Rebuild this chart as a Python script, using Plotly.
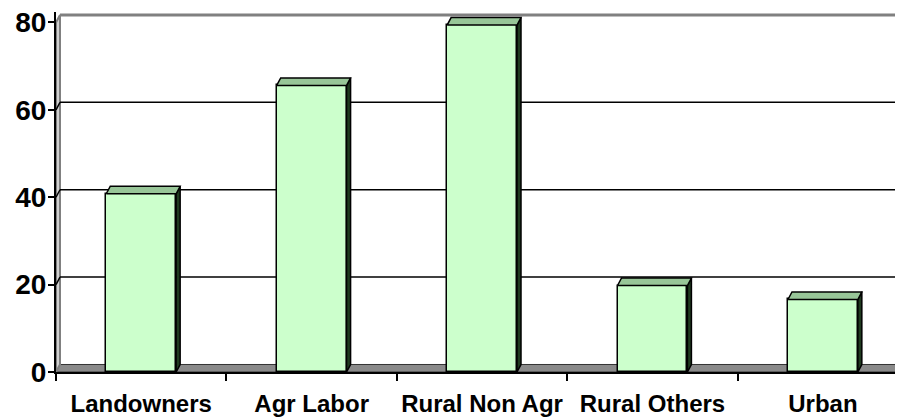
import plotly.graph_objects as go

categories = ["Landowners", "Agr Labor", "Rural Non Agr", "Rural Others", "Urban"]
values = [40.8, 65.6, 79.4, 19.8, 16.6]
y_ticks = [0, 20, 40, 60, 80]

FRONT = "#CCFFCC"
TOP = "#98C698"
SIDE = "#1f3a1f"

W = 0.41          # bar width (category units)
DX = 0.0235       # depth shift in x (category units)
DY = 1.72         # depth shift in y (value units)
XMIN, XMAX = -0.5, 4.47
YMAX = 82.4

xs = list(range(len(categories)))

fig = go.Figure()

# side faces
sx, sy = [], []
for x, v in zip(xs, values):
    r = x + W / 2
    sx += [r, r + DX, r + DX, r, r, None]
    sy += [v, v + DY, DY, 0, v, None]
fig.add_trace(go.Scatter(x=sx, y=sy, fill="toself", fillcolor=SIDE, mode="lines",
                         line=dict(color="black", width=1.5), hoverinfo="skip", showlegend=False))

# top faces
tx, ty = [], []
for x, v in zip(xs, values):
    l, r = x - W / 2, x + W / 2
    tx += [l, l + DX, r + DX, r, l, None]
    ty += [v, v + DY, v + DY, v, v, None]
fig.add_trace(go.Scatter(x=tx, y=ty, fill="toself", fillcolor=TOP, mode="lines",
                         line=dict(color="black", width=1.5), hoverinfo="skip", showlegend=False))

# front faces
fig.add_trace(go.Bar(x=xs, y=values, width=W, marker=dict(color=FRONT, line=dict(color="black", width=1.5)),
                     showlegend=False, hoverinfo="skip"))

shapes = []
# floor
shapes.append(dict(type="path", xref="x", yref="y", layer="below",
                   path=f"M {XMIN},0 L {XMAX},0 L {XMAX},{DY} L {XMIN+DX},{DY} Z",
                   fillcolor="#8a8a8a", line=dict(color="#333333", width=1)))
# left wall
shapes.append(dict(type="path", xref="x", yref="y", layer="below",
                   path=f"M {XMIN},0 L {XMIN+DX},{DY} L {XMIN+DX},{80+DY} L {XMIN},80 Z",
                   fillcolor="#d0d0d0", line=dict(color="#808080", width=2)))
# gridlines on back wall
for t in y_ticks[1:-1]:
    shapes.append(dict(type="line", xref="x", yref="y", layer="below",
                       x0=XMIN + DX, x1=XMAX, y0=t + DY, y1=t + DY,
                       line=dict(color="black", width=1.5)))
    shapes.append(dict(type="line", xref="x", yref="y", layer="below",
                       x0=XMIN, x1=XMIN + DX, y0=t, y1=t + DY,
                       line=dict(color="black", width=1.5)))
# top border of back wall
shapes.append(dict(type="line", xref="x", yref="y", layer="below",
                   x0=XMIN + DX, x1=XMAX, y0=80 + DY, y1=80 + DY,
                   line=dict(color="#808080", width=3)))

fig.update_layout(
    width=903, height=419,
    margin=dict(l=48, r=8, t=4, b=55),
    paper_bgcolor="white", plot_bgcolor="white",
    shapes=shapes,
    bargap=0,
    xaxis=dict(range=[XMIN, XMAX], tickmode="array", tickvals=xs, ticktext=categories,
               ticks="", showgrid=False, zeroline=False, showline=True, linecolor="black", linewidth=2,
               tickfont=dict(family="Liberation Sans", size=24, color="black", weight="bold"),
               ticklabelstandoff=9, ticklabeloverflow="allow",
               minor=dict(tickmode="array", tickvals=[i - 0.5 for i in range(6)], ticks="outside",
                          ticklen=7, tickwidth=1.5, tickcolor="black", showgrid=False),
               automargin=False, fixedrange=True),
    yaxis=dict(range=[0, YMAX], tickmode="array", tickvals=y_ticks, ticks="outside", ticklen=6,
               tickwidth=2, tickcolor="black", showgrid=False, zeroline=False, showline=True,
               linecolor="black", linewidth=2, ticklabelstandoff=-4, ticklabeloverflow="allow",
               tickfont=dict(family="Liberation Sans", size=28, color="black", weight="bold"),
               automargin=False, fixedrange=True),
)

fig.write_html("out.html")
